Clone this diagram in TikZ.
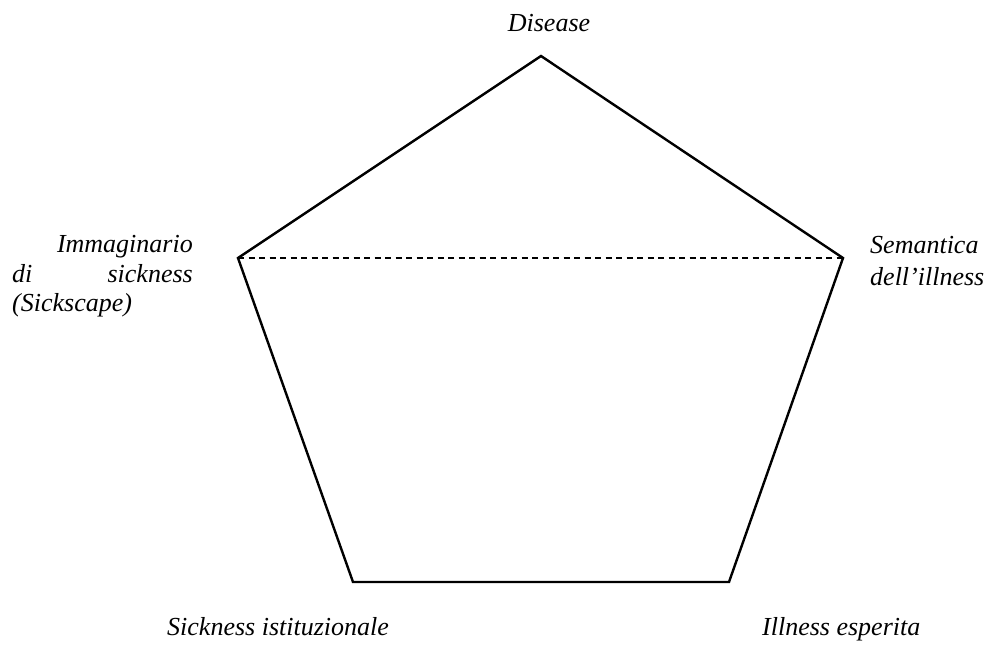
\documentclass[tikz,border=0pt]{standalone}
\usepackage{fontspec}
\setmainfont{Liberation Serif}
\begin{document}
\begin{tikzpicture}[x=1pt,y=-1pt,
  lbl/.style={inner sep=0pt,font=\fontsize{26}{30}\selectfont\itshape},
  edge/.style={line width=2.4pt,line join=miter},
  split/.style={line width=1.5pt,dash pattern=on 6pt off 4.5pt}]
\useasboundingbox (0,0) rectangle (989,646);
% pentagon corners
\coordinate (top) at (541,56);
\coordinate (left) at (238,258);
\coordinate (right) at (843,258);
\coordinate (bl) at (353,582);
\coordinate (br) at (729,582);
\draw[edge] (top) -- (right) -- (br) -- (bl) -- (left) -- cycle;
\draw[split] (left) -- (right);
% labels
\node[lbl,anchor=base] (disease) at (549,31) {Disease};
\node[lbl,anchor=base east] (imm1) at (193,252) {Immaginario};
\node[lbl,anchor=base west] (imm2a) at (12,282) {di};
\node[lbl,anchor=base east] (imm2b) at (193,282) {sickness};
\node[lbl,anchor=base west] (imm3) at (12,311) {(Sickscape)};
\node[lbl,anchor=base west] (sem1) at (870,253) {Semantica};
\node[lbl,anchor=base west] (sem2) at (870,285) {dell’illness};
\node[lbl,anchor=base west] (sick) at (167,635) {Sickness istituzionale};
\node[lbl,anchor=base west] (ill) at (762,635) {Illness esperita};
\end{tikzpicture}
\end{document}
